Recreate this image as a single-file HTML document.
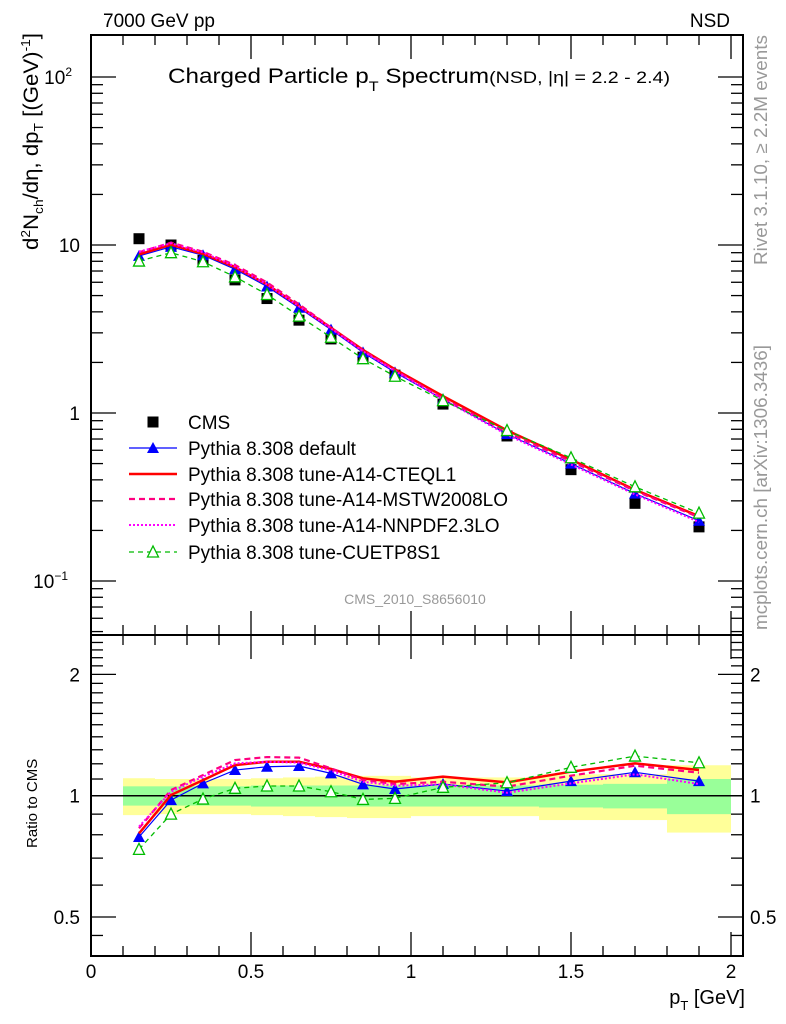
<!DOCTYPE html>
<html><head><meta charset="utf-8"><style>
body{margin:0;background:#fff}
svg{display:block;font-family:"Liberation Sans","DejaVu Sans",sans-serif}
</style></head><body>
<svg id="c" width="786" height="1024" viewBox="0 0 786 1024" xmlns="http://www.w3.org/2000/svg">
<g id="bands"></g>
<g id="axes"></g>
<g id="series"></g>
<g id="legend"></g>
<text x="103" y="27" font-size="19">7000 GeV pp</text>
<text x="730" y="27" font-size="19" text-anchor="end">NSD</text>
<text x="168" y="83" font-size="21" textLength="502" lengthAdjust="spacingAndGlyphs">Charged Particle p<tspan font-size="14" dy="8">T</tspan><tspan dy="-8"> Spectrum</tspan><tspan font-size="17">(NSD, |η| = 2.2 - 2.4)</tspan></text>
<text x="415" y="604" font-size="14" fill="#999" text-anchor="middle">CMS_2010_S8656010</text>
<text transform="translate(767,265) rotate(-90)" font-size="18" fill="#999" textLength="230" lengthAdjust="spacingAndGlyphs">Rivet 3.1.10, ≥ 2.2M events</text>
<text transform="translate(767,630) rotate(-90)" font-size="18" fill="#999" textLength="285" lengthAdjust="spacingAndGlyphs">mcplots.cern.ch [arXiv:1306.3436]</text>
<text transform="translate(38,250) rotate(-90)" font-size="21" textLength="217" lengthAdjust="spacingAndGlyphs">d<tspan font-size="13" dy="-8">2</tspan><tspan dy="8">N</tspan><tspan font-size="13" dy="5">ch</tspan><tspan dy="-5">/dη, dp</tspan><tspan font-size="13" dy="5">T</tspan><tspan dy="-5"> [(GeV)</tspan><tspan font-size="13" dy="-8">-1</tspan><tspan dy="8">]</tspan></text>
<text transform="translate(37,848) rotate(-90)" font-size="15">Ratio to CMS</text>
<text x="745" y="1004" font-size="20" text-anchor="end">p<tspan font-size="13" dy="6">T</tspan><tspan dy="-6"> [GeV]</tspan></text>
</svg>
<script>
const xCenters=[0.15,0.25,0.35,0.45,0.55,0.65,0.75,0.85,0.95,1.1,1.3,1.5,1.7,1.9];
const binEdges=[0.1,0.2,0.3,0.4,0.5,0.6,0.7,0.8,0.9,1.0,1.2,1.4,1.6,1.8,2.0];
const cmsValues=[10.9,10.0,8.1,6.2,4.8,3.57,2.76,2.15,1.68,1.13,0.73,0.46,0.29,0.21];
const totErr=[0.105,0.10,0.10,0.10,0.105,0.11,0.115,0.12,0.12,0.11,0.11,0.13,0.13,0.19];
const statErr=[0.055,0.055,0.055,0.055,0.06,0.06,0.06,0.06,0.06,0.06,0.06,0.065,0.07,0.10];
const rDefault=[0.79,0.975,1.073,1.158,1.18,1.185,1.136,1.067,1.039,1.069,1.027,1.087,1.143,1.087];
const rCTEQ=[0.806,1.004,1.093,1.191,1.214,1.214,1.165,1.104,1.083,1.115,1.079,1.147,1.203,1.158];
const rMSTW=[0.83,1.033,1.125,1.226,1.247,1.243,1.169,1.094,1.069,1.083,1.053,1.121,1.187,1.14];
const rNNPDF=[0.838,1.023,1.115,1.203,1.214,1.208,1.154,1.083,1.059,1.067,1.017,1.073,1.13,1.069];
const rCUETP=[0.736,0.9,0.981,1.043,1.057,1.057,1.023,0.979,0.985,1.049,1.077,1.176,1.254,1.207];
const legendLabels=["CMS","Pythia 8.308 default","Pythia 8.308 tune-A14-CTEQL1","Pythia 8.308 tune-A14-MSTW2008LO","Pythia 8.308 tune-A14-NNPDF2.3LO","Pythia 8.308 tune-CUETP8S1"];

const NS="http://www.w3.org/2000/svg";
const L=91,R=743,T=35,MB=635,RB=956;
const X=v=>L+v*320;
const Y=v=>413-Math.log10(v)*168;
const YR=v=>795.7-Math.log10(v)*403;
function mk(p,tag,at){const e=document.createElementNS(NS,tag);for(const k in at)e.setAttribute(k,at[k]);p.appendChild(e);return e;}
const ax=document.getElementById('axes'),bd=document.getElementById('bands'),se=document.getElementById('series'),lg=document.getElementById('legend');

for(let i=0;i<xCenters.length;i++){
  const x0=X(binEdges[i]),x1=X(binEdges[i+1]);
  let r=mk(bd,'rect',{x:x0,y:YR(1+totErr[i]),width:x1-x0,height:YR(1-totErr[i])-YR(1+totErr[i]),fill:'#ffff99'});
  
  
  r=mk(bd,'rect',{x:x0,y:YR(1+statErr[i]),width:x1-x0,height:YR(1-statErr[i])-YR(1+statErr[i]),fill:'#99ff99'});
  
  
}
let one=mk(ax,'line',{x1:L,x2:R,y1:YR(1),y2:YR(1),stroke:'#000','stroke-width':1.5});


for(const [t,b,n] of [[T,MB,'main-frame'],[MB,RB,'ratio-frame']]){
  const f=mk(ax,'rect',{x:L,y:t,width:R-L,height:b-t,fill:'none',stroke:'#000','stroke-width':2});
  
  
}
for(let k=0;k<=20;k++){const v=k/10,x=X(v),len=k%5==0?24:10;
  for(const [t,b] of [[T,MB],[MB,RB]]){
    mk(ax,'line',{x1:x,x2:x,y1:t,y2:t+len,stroke:'#000','stroke-width':1.3});
    mk(ax,'line',{x1:x,x2:x,y1:b,y2:b-len,stroke:'#000','stroke-width':1.3});
  }
  if(k%5==0){const tx=mk(ax,'text',{x:x,y:978,'font-size':19,'text-anchor':'middle'});tx.textContent=String(v);
    
    }
}
for(let d=-2;d<=2;d++)for(let m=1;m<10;m++){const v=m*Math.pow(10,d),y=Y(v);if(y<T||y>MB)continue;
  const len=m==1?25:12;
  mk(ax,'line',{x1:L,x2:L+len,y1:y,y2:y,stroke:'#000','stroke-width':1.3});
  mk(ax,'line',{x1:R,x2:R-len,y1:y,y2:y,stroke:'#000','stroke-width':1.3});
}
const mainTicks=[[100,'10','2'],[10,'10',''],[1,'1',''],[0.1,'10','−1']];
for(const [v,b,e] of mainTicks){const t=mk(ax,'text',{x:e?(e=='2'?72:68):80,y:Y(v)+7,'font-size':19,'text-anchor':'end'});
  t.textContent=b;
  if(e){const s=mk(t,'tspan',{'font-size':12,dy:-8});s.textContent=e;}
  
  }
const rt=[0.45,0.5,0.6,0.7,0.8,0.9,1,1.1,1.2,1.3,1.4,1.5,1.6,1.7,1.8,1.9,2,2.1,2.2,2.3,2.4];
for(const v of rt){const y=YR(v);if(y<MB||y>RB)continue;const len=(v==0.5||v==1||v==2)?25:12;
  mk(ax,'line',{x1:L,x2:L+len,y1:y,y2:y,stroke:'#000','stroke-width':1.3});
  mk(ax,'line',{x1:R,x2:R-len,y1:y,y2:y,stroke:'#000','stroke-width':1.3});}
for(const v of [0.5,1,2]){
  let t=mk(ax,'text',{x:80,y:YR(v)+7,'font-size':19,'text-anchor':'end'});t.textContent=String(v);
  
  
  t=mk(ax,'text',{x:750,y:YR(v)+7,'font-size':19});t.textContent=String(v);
  
  
}
const styles=[
 {r:rDefault,c:'#0000ff',w:1.2,d:'',m:'tri',n:'pythia-default'},
 {r:rCTEQ,c:'#ff0000',w:2.5,d:'',m:'',n:'a14-cteql1'},
 {r:rMSTW,c:'#ff0080',w:2.2,d:'6,4',m:'',n:'a14-mstw2008lo'},
 {r:rNNPDF,c:'#ff00ff',w:2,d:'2,2',m:'',n:'a14-nnpdf23lo'},
 {r:rCUETP,c:'#00bb00',w:1.3,d:'5,4',m:'otri',n:'cuetp8s1'}];
function marker(g,type,x,y,c){
  if(type=='tri')return mk(g,'path',{d:`M${x-6},${y+5}L${x+6},${y+5}L${x},${y-6}Z`,fill:c});
  if(type=='otri')return mk(g,'path',{d:`M${x-5.5},${y+5}L${x+5.5},${y+5}L${x},${y-6}Z`,fill:'#fff',stroke:c,'stroke-width':1.3});
  if(type=='sq')return mk(g,'rect',{x:x-5.5,y:y-5.5,width:11,height:11,fill:'#000'});
}
for(let i=0;i<xCenters.length;i++){const m=marker(se,'sq',X(xCenters[i]),Y(cmsValues[i]));
  
  }
for(const s of styles){
  const ptsM=xCenters.map((x,i)=>X(x)+','+Y(cmsValues[i]*s.r[i])).join(' ');
  const ptsR=xCenters.map((x,i)=>X(x)+','+YR(s.r[i])).join(' ');
  for(const [p,nm] of [[ptsM,'-main-line'],[ptsR,'-ratio-line']]){
    const l=mk(se,'polyline',{points:p,fill:'none',stroke:s.c,'stroke-width':s.w,'stroke-dasharray':s.d});
    
    
  }
  if(s.m)for(let i=0;i<xCenters.length;i++){
    let m=marker(se,s.m,X(xCenters[i]),Y(cmsValues[i]*s.r[i]),s.c);
    
    
    m=marker(se,s.m,X(xCenters[i]),YR(s.r[i]),s.c);
    
    
  }
}
const ly=[422,448,474,499,525,552];
for(let i=0;i<legendLabels.length;i++){
  const g=mk(lg,'g',{});
  
  
  if(i==0)marker(g,'sq',153,ly[i]);
  else{const s=styles[i-1];
    mk(g,'line',{x1:129,x2:177,y1:ly[i],y2:ly[i],stroke:s.c,'stroke-width':s.w,'stroke-dasharray':s.d});
    if(s.m)marker(g,s.m,153,ly[i],s.c);}
  const t=mk(g,'text',{x:188,y:ly[i]+7,'font-size':19});t.textContent=legendLabels[i];
}
</script>
</body></html>
